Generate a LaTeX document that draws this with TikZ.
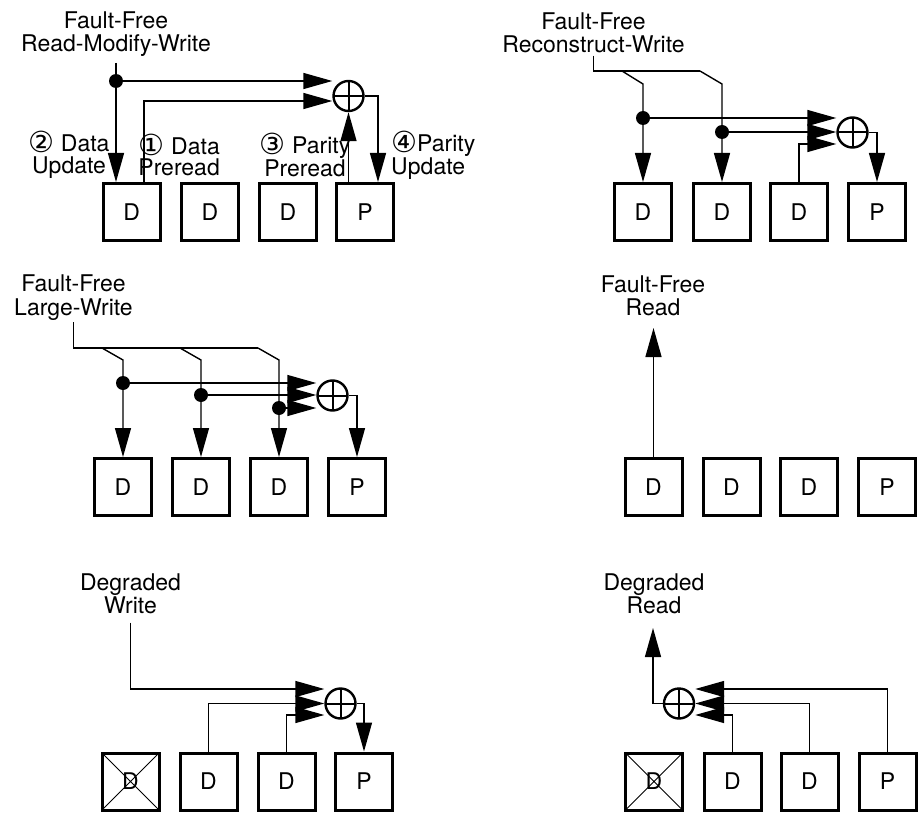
\documentclass[tikz,border=0pt]{standalone}
\usepackage{fontspec}
\setmainfont{TeX Gyre Heros}
\newfontfamily\circfont{DejaVu Sans}
\usetikzlibrary{arrows.meta}
\newcommand{\cnum}[1]{{\circfont\fontsize{29}{21}\selectfont\raisebox{-1pt}{#1}}}

\begin{document}
\begin{tikzpicture}[x=1pt,y=-1pt]
\tikzset{
  disk/.style={draw,line width=3pt,minimum size=57pt,inner sep=0pt,font=\fontsize{23}{23}\selectfont},
  lost/.style={disk,path picture={\draw[line width=1pt] (path picture bounding box.north west) -- (path picture bounding box.south east) (path picture bounding box.north east) -- (path picture bounding box.south west);}},
  xor/.style={draw,circle,line width=2.4pt,minimum size=30pt,inner sep=0pt,path picture={\draw[line width=2pt] (path picture bounding box.north) -- (path picture bounding box.south) (path picture bounding box.west) -- (path picture bounding box.east);}},
  dot/.style={circle,fill=black,minimum size=14pt,inner sep=0pt},
  title/.style={align=center,inner sep=0pt,font=\fontsize{23}{23.5}\selectfont},
  lbl/.style={inner sep=0pt,font=\fontsize{23}{21.5}\selectfont},
  wire/.style={line width=1.4pt},
  arr/.style={wire,-{Triangle[length=29pt,width=16pt]}}
}
\useasboundingbox (0,0) rectangle (920,813);

% Read-Modify-Write
\node (t1) at (116,34) [title] {Fault-Free\\Read-Modify-Write};
\node (b11) at (131.7,212) [disk] {D};
\node (b12) at (210,212) [disk] {D};
\node (b13) at (288,212) [disk] {D};
\node (b14) at (365,212) [disk] {P};
\node (x1) at (348.5,96) [xor] {};
\node (p1) at (116,81) [dot] {};
\coordinate (r1) at (144,101);
\node (l1) at (69,155) [lbl,align=center] {\cnum{②} Data\\Update};
\node (l2) at (220,155) [lbl,align=right,anchor=east] {\cnum{①} Data\\Preread};
\node (l3) at (305,155) [lbl,align=center] {\cnum{③} Parity\\Preread};
\node (l4) at (391,155) [lbl,align=left,anchor=west] {\cnum{④}Parity\\Update};
\draw[arr] ([yshift=-6pt]t1.south) -- (p1 |- b11.north);
\draw[arr] (p1) -- (p1 -| x1.west);
\draw[arr] (r1 |- b11.north) -- (r1) -- (r1 -| x1.west);
\draw[arr] (x1.south |- b14.north) -- (x1.south);
\draw[arr] (x1.east) -| ([xshift=13pt]b14.north);

% Reconstruct-Write
\node (t2) at (593.5,33) [title] {Fault-Free\\Reconstruct-Write};
\node (b21) at (643,212) [disk] {D};
\node (b22) at (722,212) [disk] {D};
\node (b23) at (799,212) [disk] {D};
\node (b24) at (877,212) [disk] {P};
\node (x2) at (852.5,132.5) [xor] {};
\node (p21) at (643,118) [dot] {};
\node (p22) at (722,132) [dot] {};
\coordinate (e2) at (700,71);
\coordinate (k21) at (622,71);
\coordinate (n21) at (643,84);
\coordinate (n22) at (722,84);
\coordinate (q23) at (799,144);
\draw[wire] ([yshift=-2pt]t2.south) -- (t2.south |- e2) -- (e2);
\draw[arr] (k21) -- (n21) -- (n21 |- b21.north);
\draw[arr] (e2) -- (n22) -- (n22 |- b22.north);
\draw[arr] (p21) -- (p21 -| x2.west);
\draw[arr] (p22) -- (p22 -| x2.west);
\draw[arr] (b23.north) -- (q23) -- (q23 -| x2.west);
\draw[arr] (x2.east) -| (b24.north);

% Large-Write
\node (t3) at (73.5,297.5) [title] {Fault-Free\\Large-Write};
\node (b31) at (123,487) [disk] {D};
\node (b32) at (201,487) [disk] {D};
\node (b33) at (279,487) [disk] {D};
\node (b34) at (357,487) [disk] {P};
\node (x3) at (332.5,395.5) [xor] {};
\node (p31) at (123,383) [dot] {};
\node (p32) at (201,395) [dot] {};
\node (p33) at (279,408) [dot] {};
\coordinate (k31) at (102,348);
\coordinate (k32) at (180,348);
\coordinate (e3) at (258,348);
\coordinate (n31) at (123,360);
\coordinate (n32) at (201,360);
\coordinate (n33) at (279,360);
\draw[wire] ([yshift=-2pt]t3.south) -- (t3.south |- e3) -- (e3);
\draw[arr] (k31) -- (n31) -- (n31 |- b31.north);
\draw[arr] (k32) -- (n32) -- (n32 |- b32.north);
\draw[arr] (e3) -- (n33) -- (n33 |- b33.north);
\draw[arr] (p31) -- (p31 -| x3.west);
\draw[arr] (p32) -- (p32 -| x3.west);
\draw[arr] (p33) -- (p33 -| x3.west);
\draw[arr] (x3.east) -| (b34.north);

% Read
\node (t4) at (653,296) [title] {Fault-Free\\Read};
\node (b41) at (653.5,487) [disk] {D};
\node (b42) at (731.5,487) [disk] {D};
\node (b43) at (809,487) [disk] {D};
\node (b44) at (887,487) [disk] {P};
\coordinate (q4) at (653.5,328);
\draw[arr] (b41.north) -- (q4);

% Degraded Write
\node (t5) at (130.5,594) [title] {Degraded\\Write};
\node (b51) at (130.5,781.5) [lost] {D};
\node (b52) at (208.5,781.5) [disk] {D};
\node (b53) at (286.5,781.5) [disk] {D};
\node (b54) at (364,781.5) [disk] {P};
\node (x5) at (340.5,703.5) [xor] {};
\coordinate (q5) at (130.5,689);
\coordinate (q53) at (286.5,715);
\draw[arr] ([yshift=-8pt]t5.south) -- (q5) -- (q5 -| x5.west);
\draw[arr] (b52.north) |- (x5.west);
\draw[arr] (b53.north) -- (q53) -- (q53 -| x5.west);
\draw[arr] (x5.east) -| (b54.north);

% Degraded Read
\node (t6) at (654,594) [title] {Degraded\\Read};
\node (b61) at (654,781.5) [lost] {D};
\node (b62) at (732.5,781.5) [disk] {D};
\node (b63) at (809.5,781.5) [disk] {D};
\node (b64) at (887.5,781.5) [disk] {P};
\node (x6) at (679,703.5) [xor] {};
\coordinate (q6) at (653,628);
\coordinate (q64) at (887.5,689);
\coordinate (q62) at (732.5,715);
\draw[arr] (x6.west) -| (q6);
\draw[arr] (b64.north) -- (q64) -- (q64 -| x6.east);
\draw[arr] (b63.north) |- (x6.east);
\draw[arr] (b62.north) -- (q62) -- (q62 -| x6.east);
\end{tikzpicture}
\end{document}
